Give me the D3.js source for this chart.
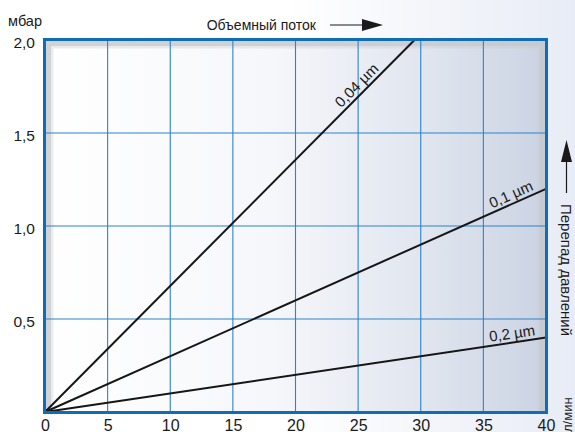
<!DOCTYPE html>
<html>
<head>
<meta charset="utf-8">
<script src="https://cdn.jsdelivr.net/npm/d3@7"></script>
<style>
  html, body { margin: 0; padding: 0; background: #fff; }
  svg { display: block; }
  text { font-family: "Liberation Sans", Arial, sans-serif; fill: #1a1a1a; }
</style>
</head>
<body>
<svg id="chart" width="575" height="432"></svg>
<script>
// Pressure drop vs. volume flow for three filter grades
const flowTicks = [0, 5, 10, 15, 20, 25, 30, 35, 40];
const pressureTicks = [0.5, 1.0, 1.5, 2.0];
const gradeLabels = ["0,04 µm", "0,1 µm", "0,2 µm"];
const flowPoints = [[0, 29.5], [0, 40], [0, 40]];
const pressurePoints = [[0, 2.0], [0, 1.2], [0, 0.4]];
const labelAt = [25.4, 37.5, 37.4];   // flow position of each grade label

const svg = d3.select("#chart");
const W = 575, H = 432;
const m = { left: 45, right: 546, top: 40, bottom: 412 };

const x = d3.scaleLinear().domain([0, 40]).range([m.left, m.right]);
const y = d3.scaleLinear().domain([0, 2]).range([m.bottom, m.top]);

const defs = svg.append("defs");
const pageGrad = defs.append("linearGradient").attr("id", "pageGrad");
pageGrad.append("stop").attr("offset", "0").attr("stop-color", "#ffffff");
pageGrad.append("stop").attr("offset", "0.5").attr("stop-color", "#ffffff");
pageGrad.append("stop").attr("offset", "1").attr("stop-color", "#e8ecf6");

const plotGrad = defs.append("linearGradient").attr("id", "plotGrad");
plotGrad.append("stop").attr("offset", "0").attr("stop-color", "#ffffff");
plotGrad.append("stop").attr("offset", "0.45").attr("stop-color", "#f6f7fb");
plotGrad.append("stop").attr("offset", "0.75").attr("stop-color", "#e1e6ef");
plotGrad.append("stop").attr("offset", "1").attr("stop-color", "#cbd3e3");

svg.append("rect").attr("width", W).attr("height", H).attr("fill", "url(#pageGrad)");

// plot background
svg.append("rect")
  .attr("x", x(0)).attr("y", y(2))
  .attr("width", x(40) - x(0)).attr("height", y(0) - y(2))
  .attr("fill", "url(#plotGrad)");

// soft grey inner frame along left, top and right
const inset = svg.append("g").attr("fill", "none").attr("stroke", "#c6c8cc").attr("stroke-opacity", 0.8);
inset.append("path")
  .attr("stroke-width", 5)
  .attr("d", `M${x(0) + 3.5},${y(0)} V${y(2) + 3.5} H${x(40) - 3.5} V${y(0)}`);
inset.append("path")
  .attr("stroke-width", 3).attr("stroke-opacity", 0.35)
  .attr("d", `M${x(0) + 7},${y(0)} V${y(2) + 7} H${x(40) - 7} V${y(0)}`);

// grid
const grid = svg.append("g").attr("stroke", "#2a84cc").attr("stroke-width", 1.1);
grid.selectAll("line.v").data(flowTicks.slice(1, -1)).join("line")
  .attr("x1", d => x(d)).attr("x2", d => x(d))
  .attr("y1", y(2)).attr("y2", y(0));
grid.selectAll("line.h").data(pressureTicks.slice(0, -1)).join("line")
  .attr("x1", x(0)).attr("x2", x(40))
  .attr("y1", d => y(d)).attr("y2", d => y(d));

// grade lines
const line = d3.line().x(d => x(d[0])).y(d => y(d[1]));
const series = gradeLabels.map((g, i) => ({
  label: g,
  pts: flowPoints[i].map((f, j) => [f, pressurePoints[i][j]])
}));
svg.append("g").selectAll("path").data(series).join("path")
  .attr("d", d => line(d.pts))
  .attr("fill", "none").attr("stroke", "#161616").attr("stroke-width", 2);

// labels along each line
series.forEach((s, i) => {
  const [p0, p1] = s.pts;
  const slope = (p1[1] - p0[1]) / (p1[0] - p0[0]);
  const f = labelAt[i];
  const px = x(f), py = y(slope * f);
  const ang = Math.atan2(y(slope * 10) - y(0), x(10) - x(0)) * 180 / Math.PI;
  svg.append("text")
    .attr("transform", `translate(${px},${py}) rotate(${ang})`)
    .attr("text-anchor", "middle").attr("dy", -4)
    .attr("font-size", 15)
    .text(s.label);
});

// frame
svg.append("rect")
  .attr("x", x(0) - 0.5).attr("y", y(2) - 0.5)
  .attr("width", x(40) - x(0) + 1).attr("height", y(0) - y(2) + 1)
  .attr("fill", "none").attr("stroke", "#0f6cb9").attr("stroke-width", 3);

// axes
const xAxis = d3.axisBottom(x).tickValues(flowTicks).tickSize(0).tickPadding(0)
  .tickFormat(d => String(d));
svg.append("g").attr("transform", `translate(0,${y(0)})`).call(xAxis)
  .call(g => g.select(".domain").remove())
  .selectAll("text")
  .attr("y", 0).attr("dy", 18.5)
  .attr("font-size", 16).attr("fill", "#1a1a1a")
  .attr("font-family", "Liberation Sans, sans-serif");

const yAxis = d3.axisLeft(y).tickValues(pressureTicks).tickSize(0).tickPadding(0)
  .tickFormat(d => d3.format(".1f")(d).replace(".", ","));
svg.append("g").attr("transform", `translate(35,0)`).call(yAxis)
  .call(g => g.select(".domain").remove())
  .selectAll("text")
  .attr("x", 0).attr("dy", 7)
  .attr("font-size", 15.5).attr("fill", "#1a1a1a")
  .attr("font-family", "Liberation Sans, sans-serif");

svg.append("text").attr("x", 42).attr("y", 26).attr("text-anchor", "end")
  .attr("font-size", 14.5).text("мбар");

// flow axis title with arrow
svg.append("text").attr("x", 316).attr("y", 30).attr("text-anchor", "end")
  .attr("font-size", 14).text("Объемный поток");
svg.append("line").attr("x1", 330).attr("x2", 366).attr("y1", 25).attr("y2", 25)
  .attr("stroke", "#1a1a1a").attr("stroke-width", 1.2);
svg.append("path").attr("d", "M362,19 L383,25 L362,31 Z").attr("fill", "#1a1a1a");

// pressure axis title with arrow
svg.append("text").attr("transform", "translate(561,270) rotate(90)")
  .attr("text-anchor", "middle").attr("font-size", 15).text("Перепад давлений");
svg.append("line").attr("x1", 566.5).attr("x2", 566.5).attr("y1", 156).attr("y2", 193)
  .attr("stroke", "#1a1a1a").attr("stroke-width", 1.2);
svg.append("path").attr("d", "M561,162 L566.5,140 L572,162 Z").attr("fill", "#1a1a1a");

// flow unit
svg.append("text").attr("transform", "translate(572,432) rotate(-90)")
  .attr("text-anchor", "start").attr("font-size", 13).text("л/мин");
</script>
</body>
</html>
